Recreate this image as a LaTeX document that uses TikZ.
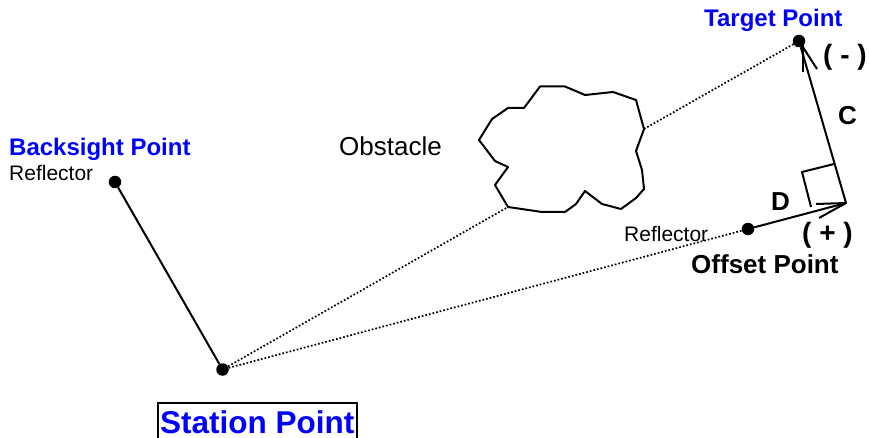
\documentclass[tikz,border=0pt]{standalone}
\usepackage{fontspec}
\setmainfont{Liberation Sans}
\definecolor{bl}{RGB}{0,0,255}
\tikzset{
 px/.style={x=1pt,y=-1pt},
 dotpt/.style={circle,fill=black,inner sep=0pt,minimum size=12.5pt},
 sol/.style={line width=2pt,black,line join=round},
 dots/.style={line width=1.7pt,black,dash pattern=on 1.7pt off 2pt},
 lab/.style={inner sep=0pt,anchor=base west},
 bluebold/.style={lab,text=bl,font=\bfseries\fontsize{24}{24}\selectfont},
 blackbold/.style={lab,font=\bfseries\fontsize{26}{26}\selectfont},
 parenlab/.style={lab,font=\bfseries\fontsize{28}{28}\selectfont},
 small/.style={lab,font=\fontsize{21}{21}\selectfont}
}
\begin{document}
\begin{tikzpicture}[px]
\useasboundingbox (0,0) rectangle (869,438);
\node[dotpt] (bs) at (115,182) {};
\node[dotpt] (st) at (222.5,369.5) {};
\node[dotpt] (tg) at (799,41) {};
\node[dotpt] (of) at (748,229) {};
\coordinate (cn) at (846,203);
\coordinate (oa) at (508,207);
\coordinate (ob) at (644,129);
\draw[sol] (540,86.5)--(565,86.5)--(585,95)--(613,92)--(636,100)--(644,129)--(636,151)--(642,170)--(644,189)--(636,198)--(621,209)--(602,204)--(585,191)--(576,204)--(565,212)--(542,212)--(508,207)--(495,185)--(508,167)--(495,161)--(479,140)--(492,119)--(508,108)--(524,108)--cycle;
\draw[sol] (bs)--(st);
\draw[dots] (st)--(oa);
\draw[dots] (ob)--(tg);
\draw[dots] (st)--(of);
\draw[sol] (of)--(cn);
\draw[sol] (cn)--(tg);
\draw[sol] (803,41)--(803,72);
\draw[sol] (799,41)--(817,69);
\draw[sol] (816,204)--(846,203)--(819,218);
\draw[sol] (811,207)--(802,172)--(834,164);
\node[bluebold] (t1) at (704,27) {Target Point};
\node[parenlab] (t2) at (823,65) {( - )};
\node[blackbold] (t3) at (838,125) {C};
\node[blackbold] (t4) at (771,211) {D};
\node[parenlab] (t5) at (802,242) {( + )};
\node[blackbold] (t6) at (691,273) {Offset Point};
\node[small] (t7) at (624,241) {Reflector};
\node[bluebold] (t8) at (9,156) {Backsight Point};
\node[small] (t9) at (9,181) {Reflector};
\node[lab,font=\fontsize{26}{26}\selectfont] (t10) at (339,156) {Obstacle};
\node[lab,text=bl,font=\bfseries\fontsize{31.5}{31.5}\selectfont] (t11) at (160,433) {Station Point};
\draw[line width=2pt] (157.5,438)--(157.5,403)--(356.5,403)--(356.5,438);
\end{tikzpicture}
\end{document}
